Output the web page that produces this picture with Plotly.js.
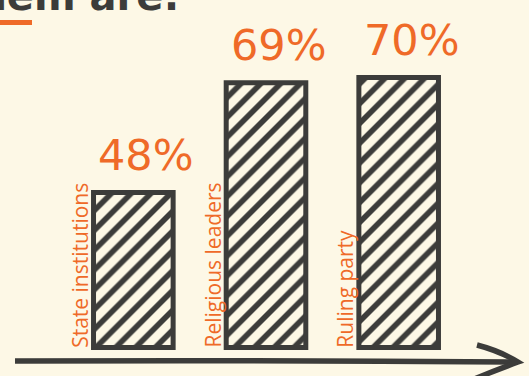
<!DOCTYPE html>
<html>
<head>
<meta charset="utf-8">
<script src="https://cdn.plot.ly/plotly-3.0.1.min.js"></script>
<style>
  html, body { margin: 0; padding: 0; background: #fdf8e6; }
  #chart { width: 529px; height: 376px; }
</style>
</head>
<body>
<div id="chart"></div>
<script>
// ---- data ----
const categories = ['State institutions', 'Religious leaders', 'Ruling party'];
const values = [48, 69, 70];
const valueSuffix = '%';
const titleText = 'Most trusted among them are:';

// ---- style ----
const BG = '#fdf8e6';
const DARK = '#3c3c3a';
const ORANGE = '#ef6a28';
const W = 529, H = 376;
const M = {l: 67, r: 64, t: 20, b: 26};
const PW = W - M.l - M.r, PH = H - M.t - M.b;
const yMin = 17.9, yMax = 81.0;
const barFrac = 0.6;

// pixel -> paper helpers (for decorations only)
const X = px => (px - M.l) / PW;
const Y = py => (H - M.b - py) / PH;

const trace = {
  type: 'bar',
  x: categories,
  y: values,
  width: barFrac,
  marker: {
    color: BG,
    line: {color: DARK, width: 5},
    pattern: {shape: '/', fgcolor: DARK, bgcolor: BG, size: 14, solidity: 0.4, fillmode: 'replace'}
  },
  hoverinfo: 'skip'
};

const annotations = [];
categories.forEach((c, i) => {
  annotations.push({
    x: c, y: values[i], xref: 'x', yref: 'y',
    text: values[i] + valueSuffix, showarrow: false,
    xanchor: 'center', yanchor: 'bottom', xshift: 13, yshift: 11,
    font: {family: 'DejaVu Sans', size: 43, color: ORANGE}
  });
  annotations.push({
    x: c, y: yMin, xref: 'x', yref: 'y',
    text: c, showarrow: false, textangle: -90,
    xanchor: 'right', yanchor: 'bottom', xshift: -38, yshift: 0,
    font: {family: 'Open Sans', size: 21, color: ORANGE}
  });
});
annotations.push({
  x: X(181), y: Y(21), xref: 'paper', yref: 'paper',
  text: '<b>' + titleText + '</b>', showarrow: false,
  xanchor: 'right', yanchor: 'bottom',
  font: {family: 'DejaVu Sans', size: 40, color: DARK}
});

const shapes = [];
// bottom edges of bars (bars are clipped at the plot bottom)
categories.forEach((c, i) => {
  shapes.push({
    type: 'line', xref: 'x', yref: 'paper',
    x0: i - barFrac / 2 - 0.0063, x1: i + barFrac / 2 + 0.0063,
    y0: Y(347.5), y1: Y(347.5),
    line: {color: DARK, width: 5}
  });
});
// orange underline of title
shapes.push({
  type: 'rect', xref: 'paper', yref: 'paper',
  x0: X(0), x1: X(32), y0: Y(20), y1: Y(25),
  fillcolor: ORANGE, line: {width: 0}
});
// hand-drawn axis arrow
shapes.push({
  type: 'path', xref: 'paper', yref: 'paper',
  path: `M${X(15)},${Y(361)} Q${X(260)},${Y(360)} ${X(517)},${Y(362)}`,
  line: {color: DARK, width: 5.5}
});
shapes.push({
  type: 'path', xref: 'paper', yref: 'paper',
  path: `M${X(477)},${Y(345)} Q${X(500)},${Y(351)} ${X(518)},${Y(362)} Q${X(496)},${Y(370)} ${X(472)},${Y(380)}`,
  line: {color: DARK, width: 5.5}
});

const layout = {
  width: W, height: H,
  margin: M,
  paper_bgcolor: BG, plot_bgcolor: BG,
  showlegend: false,
  xaxis: {type: 'category', range: [-0.5, 2.5], visible: false, fixedrange: true},
  yaxis: {range: [yMin, yMax], visible: false, fixedrange: true},
  annotations: annotations,
  shapes: shapes,
  bargap: 0.4
};

Plotly.newPlot('chart', [trace], layout, {displayModeBar: false, staticPlot: true});
</script>
</body>
</html>
